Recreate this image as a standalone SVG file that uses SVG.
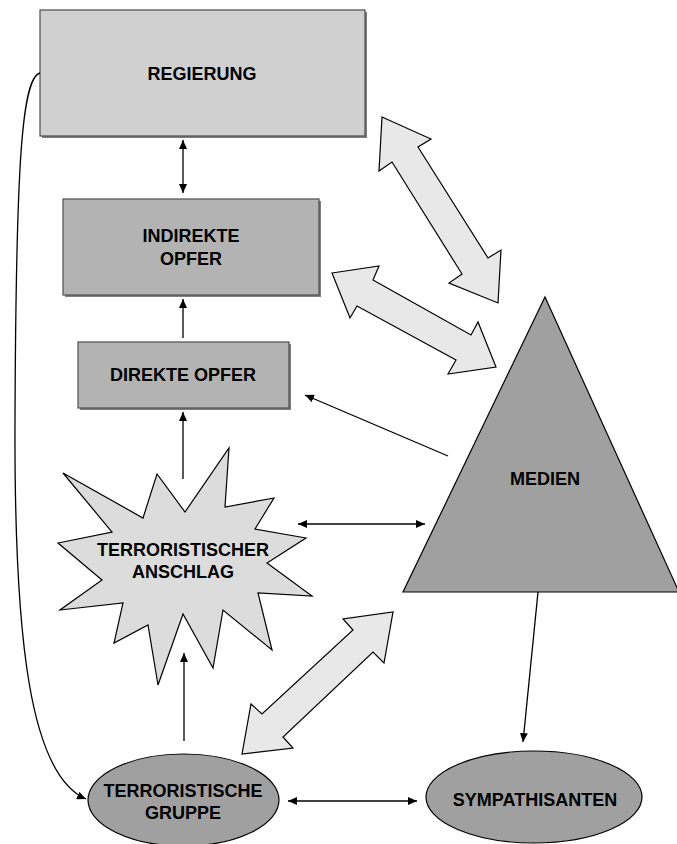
<svg xmlns="http://www.w3.org/2000/svg" width="677" height="844" viewBox="0 0 677 844">
<defs>
<marker id="ah" markerWidth="9" markerHeight="8" refX="9" refY="4" orient="auto-start-reverse" markerUnits="userSpaceOnUse">
<path d="M0,0 L9,4 L0,8 Z" fill="#000"/>
</marker>
<style>
.lbl{font-family:"Liberation Sans",Arial,sans-serif;font-weight:bold;font-size:18px;fill:#000;text-anchor:middle}
.rect{stroke:#4d4d4d;stroke-width:1.2}
.shadow{fill:#808080}
.conn{fill:none;stroke:#000;stroke-width:1.3}
.block{fill:#e8e8e8;stroke:#000;stroke-width:1.2;stroke-linejoin:miter}
</style>
</defs>
<rect width="677" height="844" fill="#fff"/>

<g id="node-regierung">
<rect class="shadow" x="42" y="12" width="325" height="126"/>
<rect class="rect" x="40" y="10" width="325" height="126" fill="#d0d0d0"/>
<text class="lbl" x="202" y="80">REGIERUNG</text>
</g>

<g id="node-indirekte-opfer">
<rect class="shadow" x="65" y="201" width="256" height="96"/>
<rect class="rect" x="63" y="199" width="256" height="96" fill="#b3b3b3"/>
<text class="lbl" x="191" y="242">INDIREKTE</text>
<text class="lbl" x="191" y="265">OPFER</text>
</g>

<g id="node-direkte-opfer">
<rect class="shadow" x="80" y="344" width="211" height="66"/>
<rect class="rect" x="78" y="342" width="211" height="66" fill="#b3b3b3"/>
<text class="lbl" x="183" y="381">DIREKTE OPFER</text>
</g>

<g id="node-medien">
<polygon points="545,297 679,592 403,592" fill="#a0a0a0" stroke="#000" stroke-width="1.2"/>
<text class="lbl" x="545" y="485">MEDIEN</text>
</g>

<g id="node-anschlag">
<polygon points="229,448 225,507 274,498 255,529 306,538 267,563 312,596 258,593 272,650 223,610 213,668 183,614 158,685 148,625 114,643 123,603 60,610 102,580 58,543 112,532 63,473 143,518 157,474 185,512" fill="#dcdcdc" stroke="#000" stroke-width="1.2" stroke-linejoin="miter"/>
<text class="lbl" x="183" y="556">TERRORISTISCHER</text>
<text class="lbl" x="183" y="578">ANSCHLAG</text>
</g>

<g id="node-gruppe">
<ellipse cx="183.5" cy="800" rx="95.5" ry="46" fill="#a0a0a0" stroke="#000" stroke-width="1.2"/>
<text class="lbl" x="183" y="797">TERRORISTISCHE</text>
<text class="lbl" x="183" y="819">GRUPPE</text>
</g>

<g id="node-sympathisanten">
<ellipse cx="534" cy="797" rx="108" ry="46" fill="#a0a0a0" stroke="#000" stroke-width="1.2"/>
<text class="lbl" x="535" y="806">SYMPATHISANTEN</text>
</g>

<g id="connectors">
<line class="conn" x1="183" y1="140" x2="183" y2="193" marker-start="url(#ah)" marker-end="url(#ah)"/>
<line class="conn" x1="183" y1="338" x2="183" y2="299" marker-end="url(#ah)"/>
<line class="conn" x1="183" y1="479" x2="183" y2="412" marker-end="url(#ah)"/>
<line class="conn" x1="448" y1="456" x2="305" y2="395" marker-end="url(#ah)"/>
<line class="conn" x1="298" y1="524" x2="425" y2="524" marker-start="url(#ah)" marker-end="url(#ah)"/>
<line class="conn" x1="184" y1="741" x2="184" y2="653" marker-end="url(#ah)"/>
<line class="conn" x1="288" y1="801" x2="417" y2="801" marker-start="url(#ah)" marker-end="url(#ah)"/>
<line class="conn" x1="538" y1="592" x2="523" y2="742" marker-end="url(#ah)"/>
<path class="conn" d="M40,73 C22,78 16,160 15,420 C14,640 30,775 86,799" marker-end="url(#ah)"/>
<polygon class="block" points="382,117 431,139 418,147 488,258 501,250 498,303 449,283 462,274 392,162 379,171"/>
<polygon class="block" points="332,273 379,266 373,280 471,335 478,322 496,367 448,374 456,360 357,306 350,318"/>
<polygon class="block" points="242,754 251,704 262,714 353,630 343,619 393,612 384,663 373,652 283,737 293,748"/>
</g>
</svg>
